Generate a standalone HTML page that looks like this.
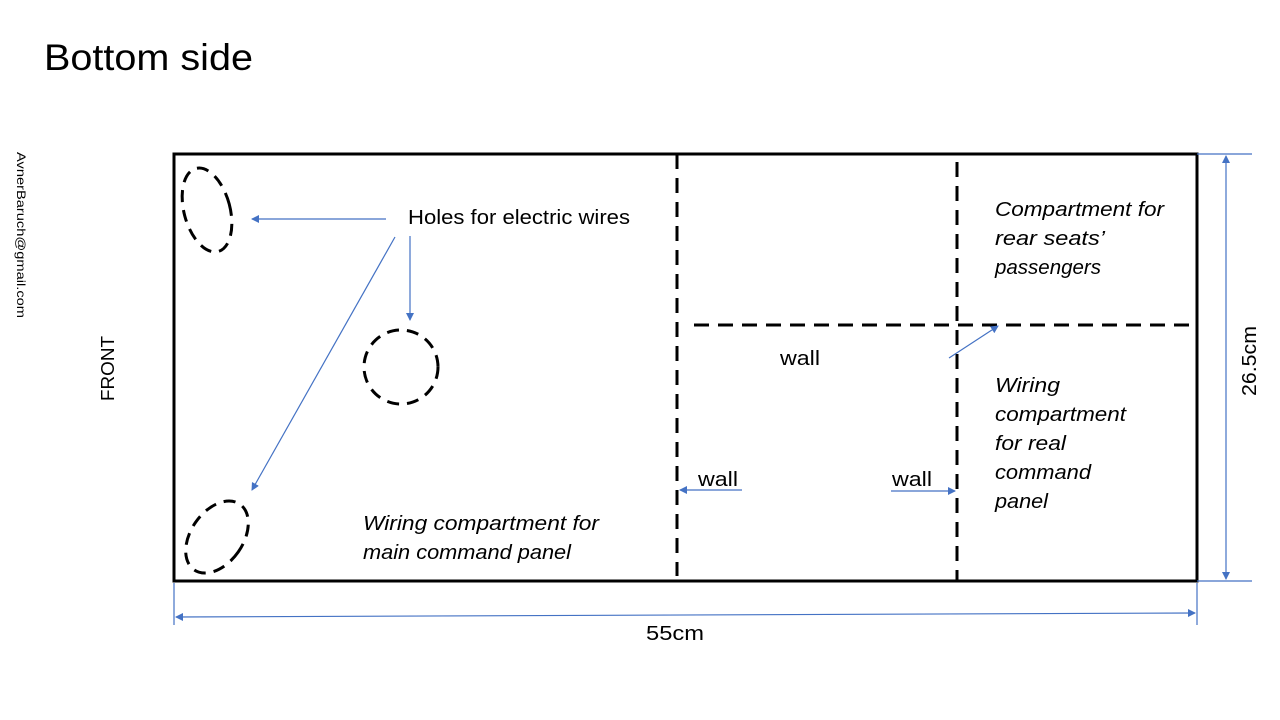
<!DOCTYPE html>
<html><head><meta charset="utf-8"><style>
html,body{margin:0;padding:0;background:#fff;}
svg{display:block;font-family:"Liberation Sans",sans-serif;}
</style></head><body>
<svg width="1280" height="720" viewBox="0 0 1280 720" xmlns="http://www.w3.org/2000/svg">
<defs>
<marker id="a" markerWidth="8" markerHeight="8" refX="7" refY="4" orient="auto" markerUnits="userSpaceOnUse">
<path d="M0,0 L8,4 L0,8 z" fill="#4472C4"/></marker>
<marker id="b" markerWidth="8" markerHeight="8" refX="1" refY="4" orient="auto" markerUnits="userSpaceOnUse">
<path d="M8,0 L0,4 L8,8 z" fill="#4472C4"/></marker>
</defs>
<text x="44" y="70" font-size="37" fill="#000" textLength="209" lengthAdjust="spacingAndGlyphs">Bottom side</text>
<text transform="translate(17,152) rotate(90)" font-size="12" fill="#000" textLength="166" lengthAdjust="spacingAndGlyphs">AvnerBaruch@gmail.com</text>
<text transform="translate(114,401) rotate(-90)" font-size="18" fill="#000" textLength="65" lengthAdjust="spacingAndGlyphs">FRONT</text>
<rect x="174" y="154" width="1023" height="427" fill="none" stroke="#000" stroke-width="3"/>
<g stroke="#000" stroke-width="3" stroke-dasharray="15,9" fill="none">
<line x1="677" y1="154" x2="677" y2="576"/>
<line x1="957" y1="162" x2="957" y2="581"/>
<line x1="694" y1="325" x2="1197" y2="325"/>
<ellipse cx="207" cy="210" rx="23" ry="43" transform="rotate(-15 207 210)" stroke-dasharray="12,8"/>
<circle cx="401" cy="367" r="37" stroke-dasharray="12,8"/>
<ellipse cx="217" cy="537" rx="26" ry="40" transform="rotate(35 217 537)" stroke-dasharray="12,8"/>
</g>
<g stroke="#4472C4" stroke-width="1.2" fill="none">
<line x1="386" y1="219" x2="252" y2="219" marker-end="url(#a)"/>
<line x1="410" y1="236" x2="410" y2="320" marker-end="url(#a)"/>
<line x1="395" y1="237" x2="252" y2="490" marker-end="url(#a)"/>
<line x1="949" y1="358" x2="998" y2="326" marker-end="url(#a)"/>
<line x1="742" y1="490" x2="680" y2="490" marker-end="url(#a)"/>
<line x1="891" y1="491" x2="955" y2="491" marker-end="url(#a)"/>
<line x1="1226" y1="156" x2="1226" y2="579" marker-start="url(#b)" marker-end="url(#a)"/>
<line x1="1197" y1="154" x2="1252" y2="154"/>
<line x1="1197" y1="581" x2="1252" y2="581"/>
<line x1="176" y1="617" x2="1195" y2="613" marker-start="url(#b)" marker-end="url(#a)"/>
<line x1="174" y1="583" x2="174" y2="625"/>
<line x1="1197" y1="583" x2="1197" y2="625"/>
</g>
<g font-size="20" fill="#000" lengthAdjust="spacingAndGlyphs">
<text x="408" y="224" textLength="222" lengthAdjust="spacingAndGlyphs">Holes for electric wires</text>
<text x="780" y="365" textLength="40" lengthAdjust="spacingAndGlyphs">wall</text>
<text x="698" y="486" textLength="40" lengthAdjust="spacingAndGlyphs">wall</text>
<text x="892" y="486" textLength="40" lengthAdjust="spacingAndGlyphs">wall</text>
<text x="646" y="640" textLength="58" lengthAdjust="spacingAndGlyphs">55cm</text>
<text transform="translate(1256,396) rotate(-90)" textLength="70" lengthAdjust="spacingAndGlyphs">26.5cm</text>
</g>
<g font-size="20" font-style="italic" fill="#000">
<text x="363" y="530" textLength="236" lengthAdjust="spacingAndGlyphs">Wiring compartment for</text>
<text x="363" y="559" textLength="208" lengthAdjust="spacingAndGlyphs">main command panel</text>
<text x="995" y="216" textLength="169" lengthAdjust="spacingAndGlyphs">Compartment for</text>
<text x="995" y="245" textLength="110" lengthAdjust="spacingAndGlyphs">rear seats’</text>
<text x="995" y="274" textLength="106" lengthAdjust="spacingAndGlyphs">passengers</text>
<text x="995" y="392" textLength="65" lengthAdjust="spacingAndGlyphs">Wiring</text>
<text x="995" y="421" textLength="131" lengthAdjust="spacingAndGlyphs">compartment</text>
<text x="995" y="450" textLength="71" lengthAdjust="spacingAndGlyphs">for real</text>
<text x="995" y="479" textLength="96" lengthAdjust="spacingAndGlyphs">command</text>
<text x="995" y="508" textLength="53" lengthAdjust="spacingAndGlyphs">panel</text>
</g>
</svg>
</body></html>
